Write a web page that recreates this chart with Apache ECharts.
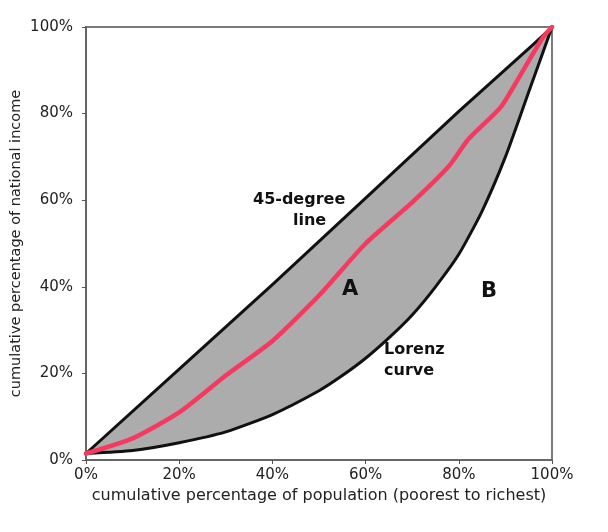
<!DOCTYPE html>
<html><head><meta charset="utf-8">
<script src="https://cdn.jsdelivr.net/npm/echarts@6/dist/echarts.min.js"></script>
<style>html,body{margin:0;padding:0;background:#fff}#c{width:608px;height:532px}</style>
</head><body><div id="c"></div>
<script>
// Data (percent)
const equalityX = [0, 20, 40, 60, 80, 96, 100];
const equalityY = [1.5, 21, 40.5, 60.5, 80.5, 96, 100];
const lorenzX = [0, 10, 20, 30, 40, 50, 55, 60, 65, 70, 75, 80, 85, 90, 95, 100];
const lorenzY = [1.5, 2.2, 4, 6.5, 10.5, 16, 19.5, 23.5, 28.2, 33.5, 40, 47.5, 57.5, 70, 85, 100];
const midX = [0, 10, 20, 30, 40, 50, 60, 70, 78, 82, 89, 93, 98, 100];
const midY = [1.5, 5, 11, 19.5, 27.5, 38, 50, 59.5, 68, 74, 81.5, 88.5, 97.5, 100];

const pairs = (xs, ys) => xs.map((x, i) => [x, ys[i]]);
const chart = echarts.init(document.getElementById('c'));
const FONT = '"DejaVu Sans", Verdana, sans-serif';
chart.setOption({
  animation: false,
  grid: { left: 86, right: 56, top: 27, bottom: 72, containLabel: false, outerBoundsMode: 'none',
    show: true, borderColor: '#7a7a7a', borderWidth: 2, backgroundColor: 'transparent' },
  xAxis: {
    type: 'value', min: 0, max: 100, interval: 20,
    name: 'cumulative percentage of population (poorest to richest)',
    nameLocation: 'middle', nameGap: 28, nameMoveOverlap: false,
    nameTextStyle: { fontFamily: FONT, fontSize: 16, color: '#222' },
    axisLine: { show: true, lineStyle: { color: '#666', width: 2 } },
    axisTick: { show: true, length: 4, lineStyle: { color: '#555' } },
    splitLine: { show: false },
    axisLabel: { formatter: '{value}%', fontFamily: FONT, fontSize: 15, color: '#222', margin: 8 }
  },
  yAxis: {
    type: 'value', min: 0, max: 100, interval: 20,
    name: 'cumulative percentage of national income',
    nameLocation: 'middle', nameGap: 62, nameMoveOverlap: false,
    nameTextStyle: { fontFamily: FONT, fontSize: 14.5, color: '#222' },
    axisLine: { show: true, lineStyle: { color: '#666', width: 2 } },
    axisTick: { show: true, length: 4, lineStyle: { color: '#555' } },
    splitLine: { show: false },
    axisLabel: { formatter: '{value}%', fontFamily: FONT, fontSize: 15, color: '#222', margin: 13 }
  },
  series: [
    {
      type: 'custom', z: 1, silent: true,
      data: [[0, 0]],
      renderItem: function (params, api) {
        const upper = pairs(equalityX, equalityY).map(p => api.coord(p));
        const lower = pairs(lorenzX, lorenzY).map(p => api.coord(p)).reverse();
        return { type: 'polygon', shape: { points: upper.concat(lower) }, style: { fill: '#acacac' } };
      }
    },
    { type: 'line', z: 3, data: pairs(equalityX, equalityY), showSymbol: false, smooth: 0,
      lineStyle: { color: '#111', width: 3, join: 'round' } },
    { type: 'line', z: 3, data: pairs(lorenzX, lorenzY), showSymbol: false, smooth: 0.2,
      lineStyle: { color: '#111', width: 3 } },
    { type: 'line', z: 4, data: pairs(midX, midY), showSymbol: false, smooth: 0.2,
      lineStyle: { color: '#f43a5f', width: 4.5, cap: 'round' } }
  ],
  graphic: [
    { type: 'text', z: 100, left: 253, top: 192, style: { text: '45-degree', font: 'bold 16px ' + FONT, fill: '#111' } },
    { type: 'text', z: 100, left: 293, top: 213, style: { text: 'line', font: 'bold 16px ' + FONT, fill: '#111' } },
    { type: 'text', z: 100, left: 342, top: 279, style: { text: 'A', font: 'bold 21px ' + FONT, fill: '#111' } },
    { type: 'text', z: 100, left: 481, top: 281, style: { text: 'B', font: 'bold 21px ' + FONT, fill: '#111' } },
    { type: 'text', z: 100, left: 384, top: 342, style: { text: 'Lorenz', font: 'bold 16px ' + FONT, fill: '#111' } },
    { type: 'text', z: 100, left: 384, top: 363, style: { text: 'curve', font: 'bold 16px ' + FONT, fill: '#111' } }
  ]
});
</script></body></html>
